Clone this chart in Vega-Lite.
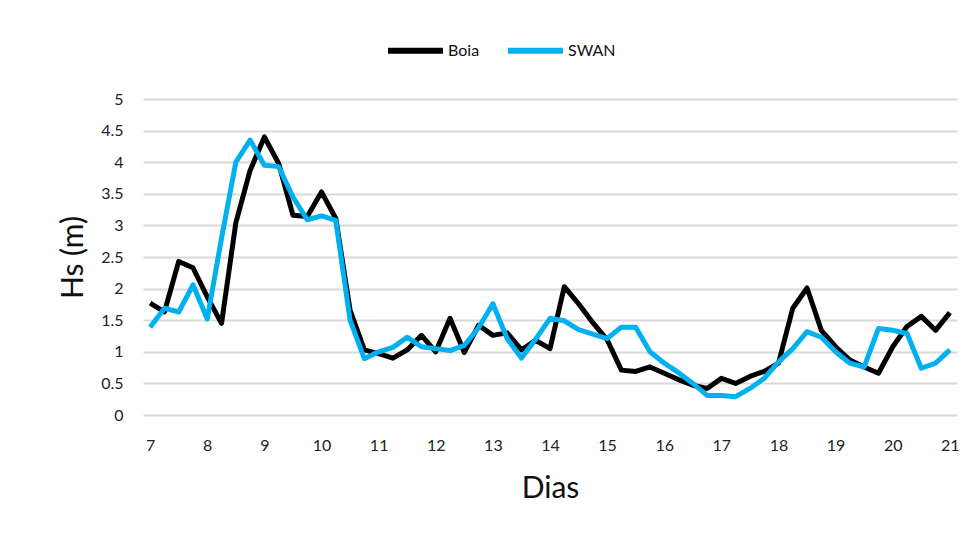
{
  "$schema": "https://vega.github.io/schema/vega-lite/v6.json",
  "width": 814,
  "height": 316,
  "autosize": {"type": "none"},
  "padding": {"left": 143, "top": 99, "right": 18, "bottom": 120},
  "background": "white",
  "data": {
    "values": [
      {"dia": 7.00, "Boia": 1.77, "SWAN": 1.39},
      {"dia": 7.25, "Boia": 1.63, "SWAN": 1.69},
      {"dia": 7.50, "Boia": 2.43, "SWAN": 1.63},
      {"dia": 7.75, "Boia": 2.33, "SWAN": 2.06},
      {"dia": 8.00, "Boia": 1.87, "SWAN": 1.52},
      {"dia": 8.25, "Boia": 1.45, "SWAN": 2.80},
      {"dia": 8.50, "Boia": 3.04, "SWAN": 4.00},
      {"dia": 8.75, "Boia": 3.87, "SWAN": 4.35},
      {"dia": 9.00, "Boia": 4.40, "SWAN": 3.95},
      {"dia": 9.25, "Boia": 3.98, "SWAN": 3.93},
      {"dia": 9.50, "Boia": 3.16, "SWAN": 3.45},
      {"dia": 9.75, "Boia": 3.14, "SWAN": 3.09},
      {"dia": 10.00, "Boia": 3.53, "SWAN": 3.15},
      {"dia": 10.25, "Boia": 3.11, "SWAN": 3.08},
      {"dia": 10.50, "Boia": 1.66, "SWAN": 1.50},
      {"dia": 10.75, "Boia": 1.03, "SWAN": 0.89},
      {"dia": 11.00, "Boia": 0.97, "SWAN": 1.00},
      {"dia": 11.25, "Boia": 0.90, "SWAN": 1.07},
      {"dia": 11.50, "Boia": 1.03, "SWAN": 1.23},
      {"dia": 11.75, "Boia": 1.26, "SWAN": 1.08},
      {"dia": 12.00, "Boia": 1.00, "SWAN": 1.05},
      {"dia": 12.25, "Boia": 1.53, "SWAN": 1.02},
      {"dia": 12.50, "Boia": 0.99, "SWAN": 1.10},
      {"dia": 12.75, "Boia": 1.42, "SWAN": 1.38},
      {"dia": 13.00, "Boia": 1.26, "SWAN": 1.76},
      {"dia": 13.25, "Boia": 1.30, "SWAN": 1.21},
      {"dia": 13.50, "Boia": 1.03, "SWAN": 0.90},
      {"dia": 13.75, "Boia": 1.18, "SWAN": 1.20},
      {"dia": 14.00, "Boia": 1.05, "SWAN": 1.53},
      {"dia": 14.25, "Boia": 2.03, "SWAN": 1.49},
      {"dia": 14.50, "Boia": 1.76, "SWAN": 1.35},
      {"dia": 14.75, "Boia": 1.46, "SWAN": 1.28},
      {"dia": 15.00, "Boia": 1.19, "SWAN": 1.21},
      {"dia": 15.25, "Boia": 0.71, "SWAN": 1.39},
      {"dia": 15.50, "Boia": 0.69, "SWAN": 1.39},
      {"dia": 15.75, "Boia": 0.76, "SWAN": 1.00},
      {"dia": 16.00, "Boia": 0.66, "SWAN": 0.82},
      {"dia": 16.25, "Boia": 0.56, "SWAN": 0.67},
      {"dia": 16.50, "Boia": 0.47, "SWAN": 0.50},
      {"dia": 16.75, "Boia": 0.42, "SWAN": 0.31},
      {"dia": 17.00, "Boia": 0.58, "SWAN": 0.31},
      {"dia": 17.25, "Boia": 0.50, "SWAN": 0.29},
      {"dia": 17.50, "Boia": 0.61, "SWAN": 0.42},
      {"dia": 17.75, "Boia": 0.69, "SWAN": 0.58},
      {"dia": 18.00, "Boia": 0.82, "SWAN": 0.84},
      {"dia": 18.25, "Boia": 1.69, "SWAN": 1.05},
      {"dia": 18.50, "Boia": 2.01, "SWAN": 1.32},
      {"dia": 18.75, "Boia": 1.34, "SWAN": 1.23},
      {"dia": 19.00, "Boia": 1.08, "SWAN": 1.00},
      {"dia": 19.25, "Boia": 0.87, "SWAN": 0.82},
      {"dia": 19.50, "Boia": 0.76, "SWAN": 0.76},
      {"dia": 19.75, "Boia": 0.66, "SWAN": 1.37},
      {"dia": 20.00, "Boia": 1.08, "SWAN": 1.34},
      {"dia": 20.25, "Boia": 1.40, "SWAN": 1.29},
      {"dia": 20.50, "Boia": 1.56, "SWAN": 0.74},
      {"dia": 20.75, "Boia": 1.34, "SWAN": 0.82},
      {"dia": 21.00, "Boia": 1.62, "SWAN": 1.03}
    ]
  },
  "transform": [{"fold": ["Boia", "SWAN"], "as": ["serie", "hs"]}],
  "mark": {"type": "line", "strokeWidth": 5, "strokeJoin": "round"},
  "encoding": {
    "x": {
      "field": "dia",
      "type": "quantitative",
      "scale": {"domain": [6.875, 21.125], "nice": false, "zero": false},
      "axis": {
        "values": [7, 8, 9, 10, 11, 12, 13, 14, 15, 16, 17, 18, 19, 20, 21],
        "grid": false,
        "domain": false,
        "ticks": false,
        "labelPadding": 22,
        "labelFontSize": 16,
        "labelColor": "#222222",
        "title": "Dias",
        "titleFontSize": 30,
        "titleFontWeight": "normal",
        "titleColor": "#111111",
        "titlePadding": 20
      }
    },
    "y": {
      "field": "hs",
      "type": "quantitative",
      "scale": {"domain": [0, 5], "nice": false},
      "axis": {
        "values": [0, 0.5, 1, 1.5, 2, 2.5, 3, 3.5, 4, 4.5, 5],
        "format": "~g",
        "grid": true,
        "gridColor": "#d9d9d9",
        "gridWidth": 2,
        "domain": false,
        "ticks": false,
        "labelPadding": 20,
        "labelFontSize": 16,
        "labelColor": "#222222",
        "title": "Hs (m)",
        "titleFontSize": 30,
        "titleFontWeight": "normal",
        "titleColor": "#111111",
        "titlePadding": 12
      }
    },
    "color": {
      "field": "serie",
      "type": "nominal",
      "scale": {"domain": ["Boia", "SWAN"], "range": ["#000000", "#00b0f0"]},
      "legend": {
        "title": null,
        "orient": "none",
        "direction": "horizontal",
        "legendX": 242,
        "legendY": -79,
        "symbolType": "stroke",
        "symbolStrokeWidth": 6,
        "symbolSize": 3025,
        "labelFontSize": 16,
        "labelOffset": 2,
        "columnPadding": 16,
        "labelColor": "#111111"
      }
    }
  },
  "config": {"view": {"stroke": null}, "font": "Lato"}
}
